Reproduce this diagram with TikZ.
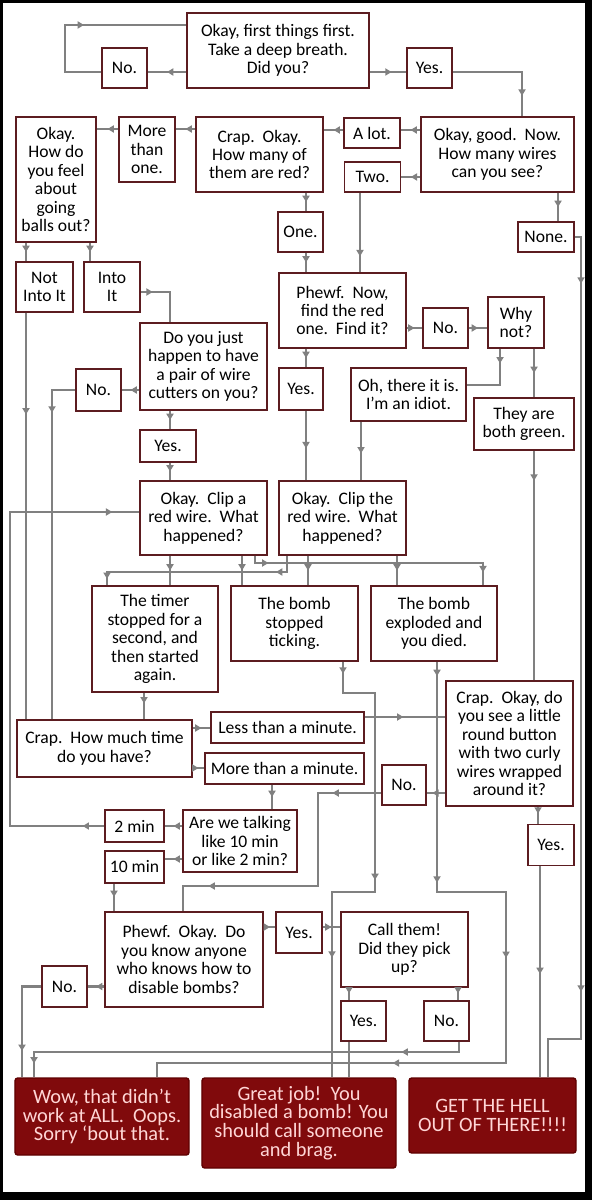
\documentclass[tikz,border=0pt]{standalone}
\usepackage{fontspec}
\setmainfont{Carlito}
\usetikzlibrary{arrows.meta}
\usetikzlibrary{decorations.markings}

\definecolor{wiregray}{RGB}{128,128,128}
\definecolor{boxedge}{RGB}{92,28,32}
\definecolor{endfill}{RGB}{128,10,12}
\definecolor{enddraw}{RGB}{95,0,0}
\definecolor{endtext}{RGB}{255,214,214}

\newcommand{\boxfont}{\fontsize{12.5}{13.1}\selectfont}
\newcommand{\lastfont}{\fontsize{14.5}{13.4}\selectfont}

\tikzset{
  qbox/.style={draw=boxedge, fill=white, line width=1.2pt, align=center, inner sep=1pt, font=\boxfont},
  endbox/.style={draw=enddraw, fill=endfill, text=endtext, line width=1pt, rounded corners=2pt, align=center, inner sep=1pt, font=\lastfont},
  wire/.style={draw=wiregray, line width=1.5pt},
  tip/.style={postaction={decorate, decoration={markings, mark=at position #1 with {\arrow{Triangle[length=4.5pt,width=5pt]}}}}},
  tip/.default=0.5
}

\begin{document}
\begin{tikzpicture}[x=0.025cm, y=-0.025cm]
\fill[black] (0,0) rectangle (592,1200);
\fill[white] (3,3) rectangle (585,1192);

% questions and answers
\node[qbox, minimum width=4.55cm, minimum height=1.875cm] (start) at (278,50.5) {Okay, first things first.\\Take a deep breath.\\Did you?};
\node[qbox, minimum width=1.125cm, minimum height=1cm] (no0) at (124.5,68) {No.};
\node[qbox, minimum width=1.125cm, minimum height=1cm] (yes0) at (429.5,68) {Yes.};
\node[qbox, minimum width=3.825cm, minimum height=1.875cm] (good) at (497.5,154.5) {Okay, good.\ \ Now.\\How many wires\\can you see?};
\node[qbox, minimum width=1.4cm, minimum height=0.75cm] (alot) at (372,133) {A lot.};
\node[qbox, minimum width=1.4cm, minimum height=0.75cm] (two) at (372.5,177) {Two.};
\node[qbox, minimum width=3.175cm, minimum height=1.875cm] (crap) at (259.5,154.5) {Crap.\ \ Okay.\\How many of\\them are red?};
\node[qbox, minimum width=1.4cm, minimum height=1.625cm] (more) at (147,149.5) {More\\than\\one.};
\node[qbox, minimum width=2cm, minimum height=3.125cm] (balls) at (56,179.5) {Okay.\\How do\\you feel\\about\\going\\balls out?};
\node[qbox, minimum width=1.125cm, minimum height=1cm] (one) at (300.5,232) {One.};
\node[qbox, minimum width=1.4cm, minimum height=0.75cm] (none) at (546,237) {None.};
\node[qbox, minimum width=3.175cm, minimum height=1.875cm] (findred) at (342.5,310.5) {Phewf.\ \ Now,\\find the red\\one.\ \ Find it?};
\node[qbox, minimum width=1.125cm, minimum height=1cm] (no1) at (445.5,328) {No.};
\node[qbox, minimum width=1.4cm, minimum height=1.275cm] (why) at (516,322.5) {Why\\not?};
\node[qbox, minimum width=1.1cm, minimum height=1.05cm] (yes1) at (301,389) {Yes.};
\node[qbox, minimum width=2.875cm, minimum height=1.325cm] (idiot) at (408.5,394.5) {Oh, there it is.\\I’m an idiot.};
\node[qbox, minimum width=2.5cm, minimum height=1.3cm] (green) at (524,424) {They are\\both green.};
\node[qbox, minimum width=1.425cm, minimum height=1.25cm] (notinto) at (44.5,287) {Not\\Into It};
\node[qbox, minimum width=1.4cm, minimum height=1.25cm] (into) at (112,287) {Into\\It};
\node[qbox, minimum width=3.175cm, minimum height=2.175cm] (cutters) at (203.5,366.5) {Do you just\\happen to have\\a pair of wire\\cutters on you?};
\node[qbox, minimum width=1.125cm, minimum height=1.05cm] (no2) at (98.5,390) {No.};
\node[qbox, minimum width=1.4cm, minimum height=0.8cm] (yes2) at (168,446) {Yes.};
\node[qbox, minimum width=3.175cm, minimum height=1.85cm] (clipa) at (203.5,518) {Okay.\ \ Clip a\\red wire.\ \ What\\happened?};
\node[qbox, minimum width=3.175cm, minimum height=1.85cm] (clipthe) at (342.5,518) {Okay.\ \ Clip the\\red wire.\ \ What\\happened?};
\node[qbox, minimum width=3.15cm, minimum height=2.65cm] (timer) at (155,639) {The timer\\stopped for a\\second, and\\then started\\again.};
\node[qbox, minimum width=3.175cm, minimum height=1.875cm] (stopped) at (294.5,623.5) {The bomb\\stopped\\ticking.};
\node[qbox, minimum width=3.15cm, minimum height=1.875cm] (died) at (434,623.5) {The bomb\\exploded and\\you died.};
\node[qbox, minimum width=4.375cm, minimum height=1.425cm] (howmuch) at (104.5,748.5) {Crap.\ \ How much time\\do you have?};
\node[qbox, minimum width=3.825cm, minimum height=0.775cm] (less) at (287.5,727.5) {Less than a minute.};
\node[qbox, minimum width=3.975cm, minimum height=0.775cm] (more1) at (284.5,768.5) {More than a minute.};
\node[qbox, minimum width=3.175cm, minimum height=3.125cm] (button) at (509.5,743.5) {Crap.\ \ Okay, do\\you see a little\\round button\\with two curly\\wires wrapped\\around it?};
\node[qbox, minimum width=1.1cm, minimum height=1cm] (no6) at (404,785) {No.};
\node[qbox, minimum width=1.15cm, minimum height=1.025cm] (yes6) at (551,845) {Yes.};
\node[qbox, minimum width=2.85cm, minimum height=1.55cm] (talking) at (240,841) {Are we talking\\like 10 min\\or like 2 min?};
\node[qbox, minimum width=1.475cm, minimum height=0.8cm] (twomin) at (134.5,826) {2 min};
\node[qbox, minimum width=1.475cm, minimum height=0.8cm] (tenmin) at (134.5,867) {10 min};
\node[qbox, minimum width=3.95cm, minimum height=2.375cm] (anyone) at (184,959.5) {Phewf.\ \ Okay.\ \ Do\\you know anyone\\who knows how to\\disable bombs?};
\node[qbox, minimum width=1.15cm, minimum height=1.025cm] (yes3) at (299,932.5) {Yes.};
\node[qbox, minimum width=3.175cm, minimum height=1.875cm] (callthem) at (404.5,949.5) {Call them!\\Did they pick\\up?};
\node[qbox, minimum width=1.125cm, minimum height=1cm] (yes5) at (363.5,1021) {Yes.};
\node[qbox, minimum width=1.125cm, minimum height=1cm] (no5) at (446.5,1021) {No.};
\node[qbox, minimum width=1.125cm, minimum height=1.025cm] (no4) at (64.5,986.5) {No.};

% endings
\node[endbox, minimum width=4.35cm, minimum height=1.925cm] (wow) at (102,1116.5) {Wow, that didn’t\\work at ALL.\ \ Oops.\\Sorry ‘bout that.};
\node[endbox, minimum width=4.85cm, minimum height=2.25cm] (great) at (299,1123) {Great job!\ \ You\\disabled a bomb! You\\should call someone\\and brag.};
\node[endbox, minimum width=4.175cm, minimum height=1.875cm] (get) at (492.5,1115.5) {GET THE HELL\\OUT OF THERE!!!!};

% top loop
\draw[wire,tip] (start.west |- 0,72) -- (no0.east |- 0,72);
\draw[wire,tip] (no0.west |- 0,72) -- (65,72) -- (65,25) -- (start.west |- 0,25);
\draw[wire,tip=0.6] (start.east |- 0,72) -- (yes0.west |- 0,72);
\draw[wire,tip=0.82] (yes0.east |- 0,72) -| (522,0 |- good.north);

% how many wires
\draw[wire,tip] (good.west |- 0,130) -- (alot.east |- 0,130);
\draw[wire,tip] (alot.west |- 0,130) -- (crap.east |- 0,130);
\draw[wire,tip] (good.west |- two.east) -- (two.east);
\draw[wire,tip] (crap.west |- 0,129) -- (more.east |- 0,129);
\draw[wire,tip] (more.west |- 0,129) -- (balls.east |- 0,129);
\draw[wire,tip] (306,0 |- crap.south) -- (306,0 |- one.north);
\draw[wire,tip] (306,0 |- one.south) -- (306,0 |- findred.north);
\draw[wire,tip=0.8] (360,0 |- two.south) -- (360,0 |- findred.north);
\draw[wire,tip] (558,0 |- good.south) -- (558,0 |- none.north);
\draw[wire,tip=0.06,tip=0.865] (none.east) -| (581,1039) -| (548,0 |- get.north);

% balls out
\draw[wire,tip] (26,0 |- balls.south) -- (26,0 |- notinto.north);
\draw[wire,tip] (90,0 |- balls.south) -- (90,0 |- into.north);
\draw[wire,tip=0.2] (into.east |- 0,292) -| (170,0 |- cutters.north);
\draw[wire,tip=0.25] (26,0 |- notinto.south) -- (26,0 |- howmuch.north);
\draw[wire,tip] (cutters.west |- no2.east) -- (no2.east);
\draw[wire,tip=0.13] (no2.west) -| (52,0 |- howmuch.north);
\draw[wire,tip] (170,0 |- cutters.south) -- (170,0 |- yes2.north);
\draw[wire,tip] (170,0 |- yes2.south) -- (170,0 |- clipa.north);

% find the red one
\draw[wire,tip] (findred.east |- no1.west) -- (no1.west);
\draw[wire,tip] (no1.east) -- (why.west |- no1.east);
\draw[wire,tip] (306,0 |- findred.south) -- (306,0 |- yes1.north);
\draw[wire,tip=0.21] (500,0 |- why.south) |- (idiot.east |- 0,385);
\draw[wire,tip] (534,0 |- why.south) -- (534,0 |- green.north);
\draw[wire,tip=0.54] (306,0 |- yes1.south) -- (306,0 |- clipthe.north);
\draw[wire,tip=0.54] (361,0 |- idiot.south) -- (361,0 |- clipthe.north);
\draw[wire,tip=0.13] (534,0 |- green.south) -- (534,0 |- button.north);

% clipping
\draw[wire,tip=0.04,tip=0.95] (twomin.west) -| (10,512) -- (clipa.west |- 0,512);
\draw[wire,tip] (170,0 |- clipa.south) -- (170,0 |- timer.north);
\draw[wire,tip] (242,0 |- clipa.south) -- (242,0 |- stopped.north);
\draw[wire,tip=0.08,tip=0.95] (255,0 |- clipa.south) |- (483,563) -- (483,0 |- died.north);
\draw[wire,tip=0.13,tip=0.97] (287,0 |- clipthe.south) |- (107,572) -- (107,0 |- timer.north);
\draw[wire,tip] (308,0 |- clipthe.south) -- (308,0 |- stopped.north);
\draw[wire,tip] (397,0 |- clipthe.south) -- (397,0 |- died.north);

% what happened
\draw[wire,tip=0.4] (144,0 |- timer.south) -- (144,0 |- howmuch.north);
\draw[wire,tip=0.024,tip=0.51,tip=0.756] (343,0 |- stopped.south) |- (375,693) |- (332,892) -- (332,0 |- great.north);
\draw[wire,tip=0.017,tip=0.265,tip=0.438,tip=0.70] (437,0 |- died.south) |- (506,892) |- (157,1063) -- (157,0 |- wow.north);

% time left
\draw[wire,tip] (howmuch.east |- 0,728) -- (less.west |- 0,728);
\draw[wire,tip] (howmuch.east |- 0,768) -- (more1.west |- 0,768);
\draw[wire,tip=0.48] (less.east |- 0,717) -- (button.west |- 0,717);
\draw[wire,tip] (272,0 |- more1.south) -- (272,0 |- talking.north);
\draw[wire,tip] (talking.west |- twomin.east) -- (twomin.east);
\draw[wire,tip] (talking.west |- 0,859) -- (tenmin.east |- 0,859);
\draw[wire,tip=0.48] (114,0 |- tenmin.south) -- (114,0 |- anyone.north);

% round button
\draw[wire,tip=0.7] (button.west |- 0,793) -- (no6.east |- 0,793);
\draw[wire,tip=0.154,tip=0.84] (no6.west |- 0,793) -| (318,886) -| (183,0 |- anyone.north);
\draw[wire,tip=0.4] (538,0 |- button.south) -- (538,0 |- yes6.north);
\draw[wire,tip=0.51] (540,0 |- yes6.south) -- (540,0 |- get.north);

% anyone / call
\draw[wire,tip=0.55] (anyone.east |- 0,927) -- (yes3.west |- 0,927);
\draw[wire,tip] (yes3.east |- 0,927) -- (callthem.west |- 0,927);
\draw[wire,tip] (anyone.west |- no4.east) -- (no4.east);
\draw[wire,tip=0.76] (no4.west) -| (22,0 |- wow.north);
\draw[wire,tip=0.45] (349,0 |- callthem.south) -- (349,0 |- yes5.north);
\draw[wire,tip=0.45] (458,0 |- callthem.south) -- (458,0 |- no5.north);
\draw[wire] (349,0 |- yes5.south) -- (349,0 |- great.north);
\draw[wire,tip=0.147,tip=0.97] (459,0 |- no5.south) |- (34,1052) -- (34,0 |- wow.north);

\end{tikzpicture}
\end{document}
